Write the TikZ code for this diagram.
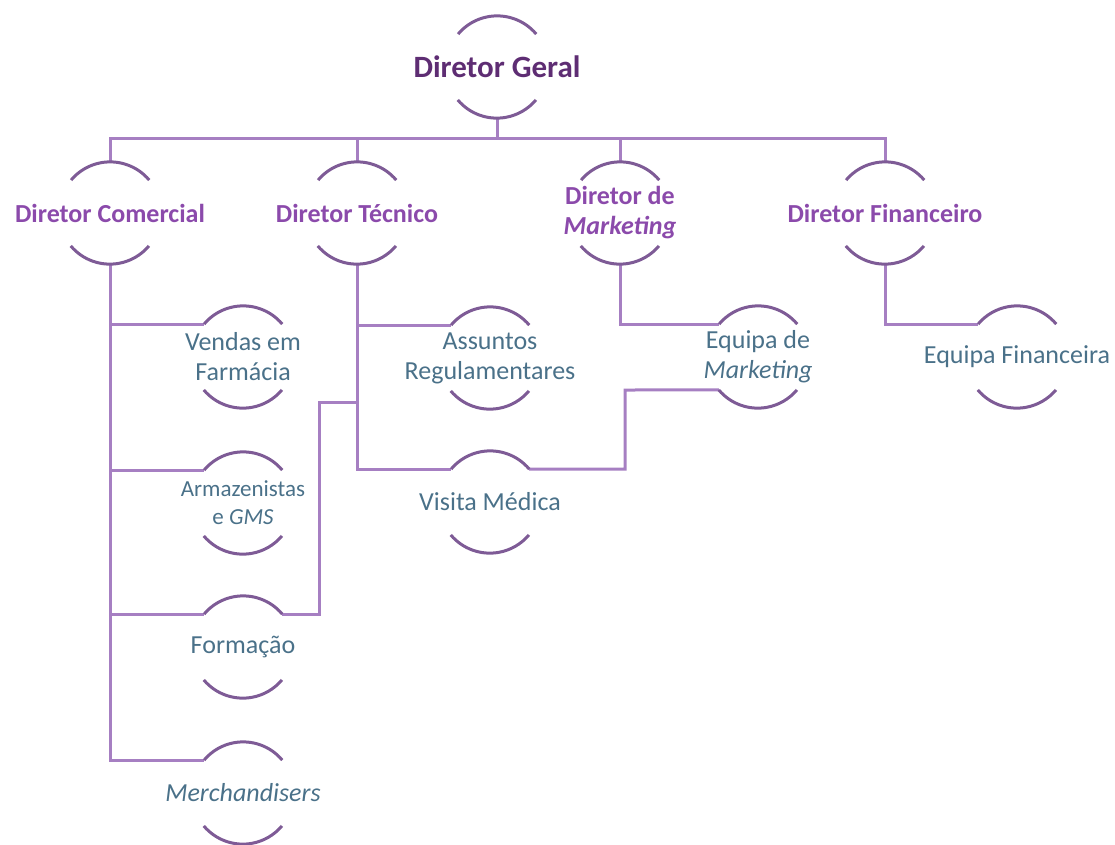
\documentclass[tikz,border=0pt]{standalone}
\usepackage{fontspec}
\setmainfont{Carlito}

\definecolor{geralpurple}{HTML}{5E2D73}
\definecolor{dirpurple}{HTML}{8B4AAB}
\definecolor{unitblue}{HTML}{4A7189}
\definecolor{linkpurple}{HTML}{A67FC2}
\definecolor{arcpurple}{HTML}{7E5B96}

\tikzset{
	unit/.style={circle, minimum size=102pt, inner sep=0pt},
	headtext/.style={align=center, text=dirpurple, font=\fontsize{26}{30}\selectfont\bfseries},
	subtext/.style={align=center, text=unitblue, font=\fontsize{26}{30}\selectfont},
	link/.style={draw=linkpurple, line width=3pt},
	rim/.style={draw=arcpurple, line width=3pt}
}

\begin{document}
\begin{tikzpicture}[x=1pt, y=1pt]
				\useasboundingbox (0,0) rectangle (1115,-844);
				% Paths, nodes and wires:
				\node[unit, label={[headtext, text=geralpurple, font=\fontsize{31}{34}\selectfont\bfseries]center:Diretor Geral}] (geral) at (497,-67){};
				\node[unit, label={[headtext]center:Diretor Comercial}] (comercial) at (110,-213){};
				\node[unit, label={[headtext]center:Diretor Técnico}] (tecnico) at (357,-213){};
				\node[unit, label={[headtext]center:Diretor de\\\textit{Marketing}}] (marketing) at (620,-213){};
				\node[unit, label={[headtext]center:Diretor Financeiro}] (financeiro) at (885,-213){};
				\node[unit, label={[subtext]center:Vendas em\\Farmácia}] (vendas) at (243,-357){};
				\node[unit, label={[subtext, font=\fontsize{23}{28}\selectfont]center:Armazenistas\\e \textit{GMS}}] (armaz) at (243,-503){};
				\node[unit, label={[subtext]center:Formação}] (formacao) at (243,-647){};
				\node[unit, label={[subtext]center:\textit{Merchandisers}}] (merch) at (243,-793){};
				\node[unit, label={[subtext]center:Assuntos\\Regulamentares}] (assuntos) at (490,-358){};
				\node[unit, label={[subtext]center:Visita Médica}] (visita) at (490,-502){};
				\node[unit, label={[subtext]center:Equipa de\\\textit{Marketing}}] (eqmkt) at (758,-357){};
				\node[unit, label={[subtext]center:Equipa Financeira}] (eqfin) at (1017,-357){};
				\coordinate (bus) at (497,-138);
				\coordinate (formjog) at (319,-402);
				\coordinate (visjog) at (625,-390);
				\draw[link] (geral.south) -- (bus);
				\draw[link] (comercial.north) |- (financeiro.north |- bus) -- (financeiro.north);
				\draw[link] (tecnico.north) -- (tecnico.north |- bus);
				\draw[link] (marketing.north) -- (marketing.north |- bus);
				\draw[link] (comercial.south) |- (merch.140);
				\draw[link] (comercial.south |- vendas.140) -- (vendas.140);
				\draw[link] (comercial.south |- armaz.140) -- (armaz.140);
				\draw[link] (comercial.south |- formacao.140) -- (formacao.140);
				\draw[link] (formacao.40) -| (formjog) -- (formjog -| tecnico.south);
				\draw[link] (tecnico.south) |- (visita.140);
				\draw[link] (tecnico.south |- assuntos.140) -- (assuntos.140);
				\draw[link] (visita.40) -| (visjog) -- (eqmkt.220);
				\draw[link] (marketing.south) |- (eqmkt.140);
				\draw[link] (financeiro.south) |- (eqfin.140);
				\foreach \n in {geral,comercial,tecnico,marketing,financeiro,vendas,armaz,formacao,merch,assuntos,visita,eqmkt,eqfin}
					\draw[rim] (\n.40) arc[start angle=40, end angle=140, radius=51pt] (\n.220) arc[start angle=220, end angle=320, radius=51pt];
\end{tikzpicture}
\end{document}
